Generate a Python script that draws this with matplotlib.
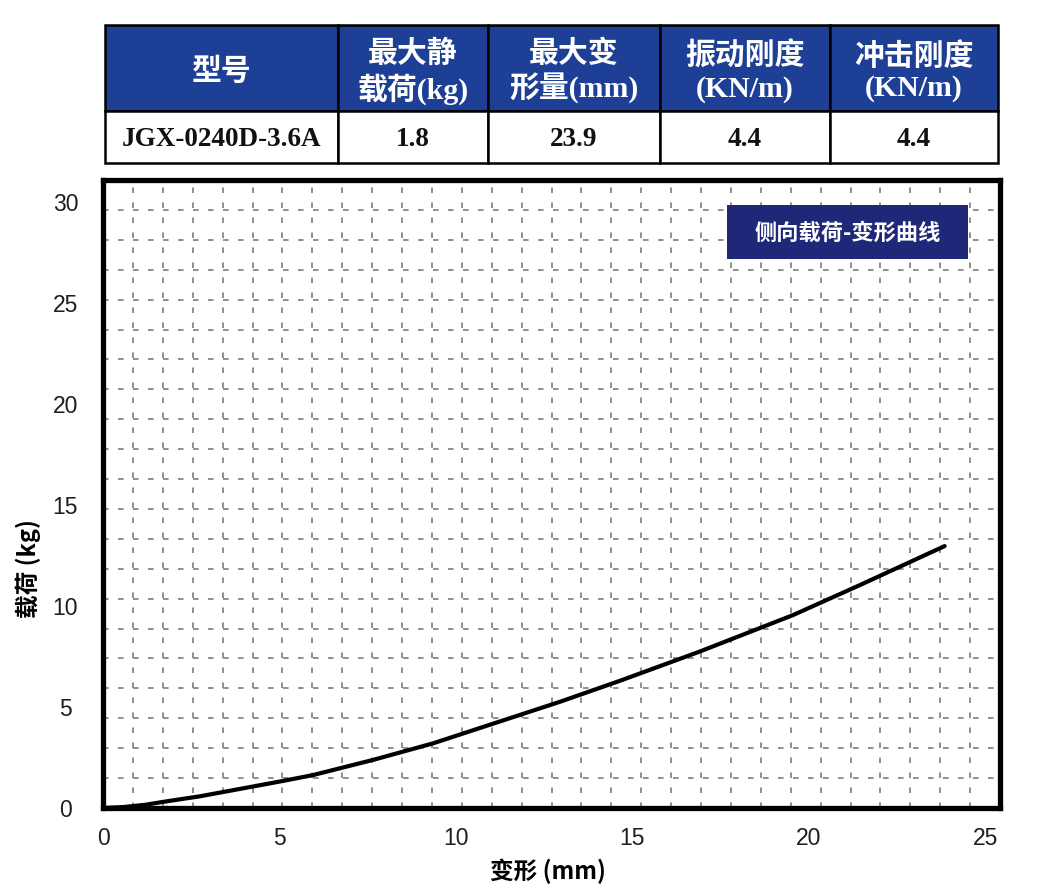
import matplotlib
matplotlib.use('Agg')
import matplotlib.pyplot as plt
from matplotlib.patches import Rectangle

# ---- data ----
deflection_mm = [0, 0.6, 1.2, 1.8, 2.75, 5.1, 5.95, 7.65, 9.35, 12.95, 14.65, 16.9, 19.55, 21.45, 23.85]
load_kg = [0, 0.05, 0.16, 0.33, 0.58, 1.34, 1.63, 2.38, 3.2, 5.26, 6.3, 7.74, 9.55, 11.04, 12.97]
x_ticks = [0, 5, 10, 15, 20, 25]
y_ticks = [0, 5, 10, 15, 20, 25, 30]
table_headers = ["型号", "最大静\n载荷(kg)", "最大变\n形量(mm)", "振动刚度\n(KN/m)", "冲击刚度\n(KN/m)"]
table_values = ["JGX-0240D-3.6A", "1.8", "23.9", "4.4", "4.4"]
legend_title = "侧向载荷-变形曲线"
x_label = "变形 (mm)"
y_label = "载荷 (kg)"

plt.rcParams['lines.scale_dashes'] = False
W, H = 1037, 889
fig = plt.figure(figsize=(W / 100, H / 100), dpi=100)

def fx(x):
    return x / W

def fy(y):
    return 1 - y / H

# ---- axes ----
ax_l, ax_r, ax_t, ax_b = 103, 1000, 180, 808
ax = fig.add_axes([fx(ax_l), fy(ax_b), fx(ax_r) - fx(ax_l), fy(ax_t) - fy(ax_b)])
xmax, ymax = 25.42, 31.1
ax.set_xlim(0, xmax)
ax.set_ylim(0, ymax)

grid_kw = dict(color='#8e8e8e', linewidth=1.4, linestyle=(0, (4.0, 6.8)), zorder=1)
for i in range(1, 30):
    ax.axvline(xmax * i / 30, **grid_kw)
for j in range(1, 21):
    ax.axhline(ymax * j / 21, **grid_kw)

ax.plot(deflection_mm, load_kg, color='black', linewidth=3.0, solid_capstyle='round',
        solid_joinstyle='round', zorder=3)

for s in ax.spines.values():
    s.set_linewidth(3.8)
    s.set_color('black')

ax.set_xticks(x_ticks)
ax.set_yticks(y_ticks)
ax.tick_params(length=0, labelsize=16.5, labelcolor='#1e1e1e')
ax.tick_params(axis='y', pad=27)
ax.tick_params(axis='x', pad=14)
for lab in ax.get_yticklabels():
    lab.set_ha('center')
    lab.set_family(['Liberation Sans'])
for lab in ax.get_xticklabels():
    lab.set_family(['Liberation Sans'])

cjk = ['Noto Sans CJK SC', 'DejaVu Sans']
fig.text(fx(548), fy(871), x_label, ha='center', va='center', fontsize=17,
         fontweight='bold', family=cjk)
fig.text(fx(28), fy(569), y_label, ha='center', va='center', fontsize=17,
         fontweight='bold', family=cjk, rotation=90)

# ---- legend box ----
lx0, lx1, ly0, ly1 = 727, 968, 205, 259
fig.patches.append(Rectangle((fx(lx0), fy(ly1)), fx(lx1) - fx(lx0), fy(ly0) - fy(ly1),
                             transform=fig.transFigure, facecolor='#1f2878',
                             edgecolor='none', zorder=5))
fig.text(fx((lx0 + lx1) / 2), fy(233), legend_title, ha='center', va='center',
         color='white', fontsize=16, fontweight='bold', family=cjk, zorder=6)

# ---- table ----
col_edges = [105, 338, 488, 660, 830, 998]
row_edges = [25, 111, 163]
serif = ['Liberation Serif', 'Noto Sans CJK SC']
for c in range(5):
    x0, x1 = col_edges[c], col_edges[c + 1]
    fig.patches.append(Rectangle((fx(x0), fy(row_edges[1])), fx(x1) - fx(x0),
                                 fy(row_edges[0]) - fy(row_edges[1]),
                                 transform=fig.transFigure, facecolor='#1d3f96',
                                 edgecolor='black', linewidth=1.8, zorder=5))
    fig.patches.append(Rectangle((fx(x0), fy(row_edges[2])), fx(x1) - fx(x0),
                                 fy(row_edges[1]) - fy(row_edges[2]),
                                 transform=fig.transFigure, facecolor='white',
                                 edgecolor='black', linewidth=1.8, zorder=5))
    fig.text(fx((x0 + x1) / 2), fy(72), table_headers[c], ha='center', va='center',
             color='white', fontsize=21.5, fontweight='bold', family=serif,
             linespacing=1.22, zorder=6)
    fig.text(fx((x0 + x1) / 2), fy(139), table_values[c], ha='center', va='center',
             color='#111111', fontsize=19.5, fontweight='bold', family=serif, zorder=6)

fig.savefig('out.png', dpi=100, facecolor='white')
